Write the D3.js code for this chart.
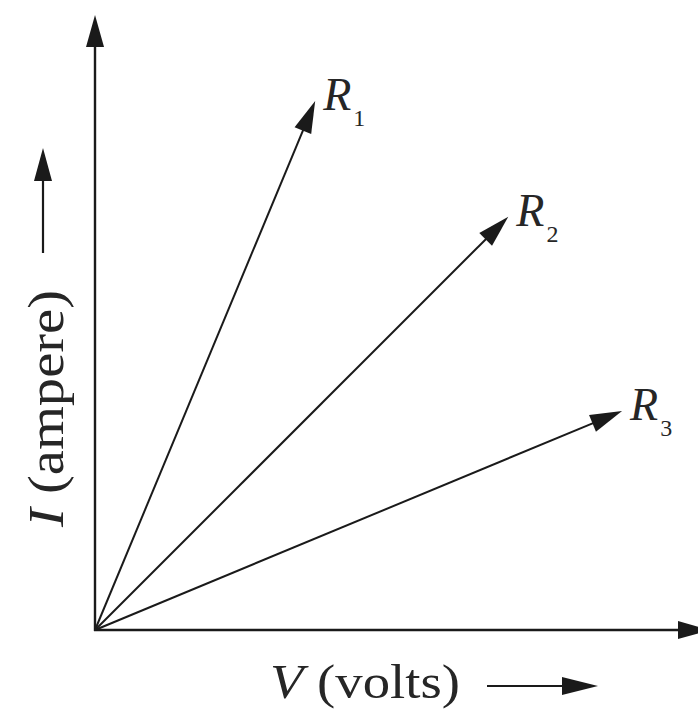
<!DOCTYPE html>
<html>
<head>
<meta charset="utf-8">
<script src="https://cdn.jsdelivr.net/npm/d3@7"></script>
<style>
  html, body { margin: 0; padding: 0; background: #fff; }
  svg { display: block; }
  text { font-family: "Liberation Serif", "DejaVu Serif", serif; fill: #262626; }
</style>
</head>
<body>
<svg id="chart" width="698" height="710"></svg>
<script>
// ---- data ----
const resistors = ["R1", "R2", "R3"];
const subscripts = ["1", "2", "3"];
const voltage = [3.58, 6.72, 8.57];   // V at arrow tip
const current = [8.60, 6.72, 3.56];   // I at arrow tip
const axisMax = [10, 10];              // [V max, I max]
const xLabelItalic = "V";
const xLabelText = " (volts)";
const yLabelItalic = "I";
const yLabelText = " (ampere)";

// ---- drawing ----
const svg = d3.select("#chart");
const origin = { x: 95, y: 630 };
const x = d3.scaleLinear().domain([0, axisMax[0]]).range([origin.x, 710]);
const y = d3.scaleLinear().domain([0, axisMax[1]]).range([origin.y, 15]);
const ink = "#1a1a1a";

function arrow(g, x1, y1, x2, y2, opts) {
  const len = opts.headLen || 32, hw = opts.headHalf || 9;
  const dx = x2 - x1, dy = y2 - y1, L = Math.hypot(dx, dy);
  const ux = dx / L, uy = dy / L;
  const bx = x2 - ux * len, by = y2 - uy * len;
  g.append("line")
    .attr("x1", x1).attr("y1", y1)
    .attr("x2", bx + ux * 2).attr("y2", by + uy * 2)
    .attr("stroke", ink).attr("stroke-width", opts.width || 2)
    .attr("stroke-linecap", "butt");
  const px = -uy, py = ux;
  g.append("path")
    .attr("d", `M${x2},${y2}L${bx + px * hw},${by + py * hw}L${bx - px * hw},${by - py * hw}Z`)
    .attr("fill", ink);
}

const g = svg.append("g");

// axes
arrow(g, x(0), y(0) + 1, x(0), y(axisMax[1]), { width: 2.4 });
arrow(g, x(0) - 1, y(0), x(axisMax[0]), y(0), { width: 2.4 });

// resistor lines
resistors.forEach((r, i) => {
  const tx = x(voltage[i]), ty = y(current[i]);
  arrow(g, x(0), y(0), tx, ty, { width: 2 });
  const t = g.append("text")
    .attr("x", tx + 8).attr("y", ty + 9);
  t.append("tspan").attr("font-style", "italic").attr("font-size", 46).text(r.charAt(0));
  t.append("tspan").attr("font-size", 24).attr("dx", 2).attr("dy", 16).text(subscripts[i]);
});

// x label
const xl = g.append("text")
  .attr("x", 270).attr("y", 698)
  .attr("font-size", 48)
  .attr("textLength", 190).attr("lengthAdjust", "spacingAndGlyphs");
xl.append("tspan").attr("font-style", "italic").text(xLabelItalic);
xl.append("tspan").text(xLabelText);
arrow(g, 487, 686, 598, 686, { width: 2.2, headLen: 36, headHalf: 9 });

// y label
const yl = g.append("text")
  .attr("transform", "translate(63,527) rotate(-90)")
  .attr("font-size", 50)
  .attr("textLength", 237).attr("lengthAdjust", "spacingAndGlyphs");
yl.append("tspan").attr("font-style", "italic").text(yLabelItalic);
yl.append("tspan").text(yLabelText);
arrow(g, 43, 253, 43, 148, { width: 2.2, headLen: 33, headHalf: 9 });
</script>
</body>
</html>
